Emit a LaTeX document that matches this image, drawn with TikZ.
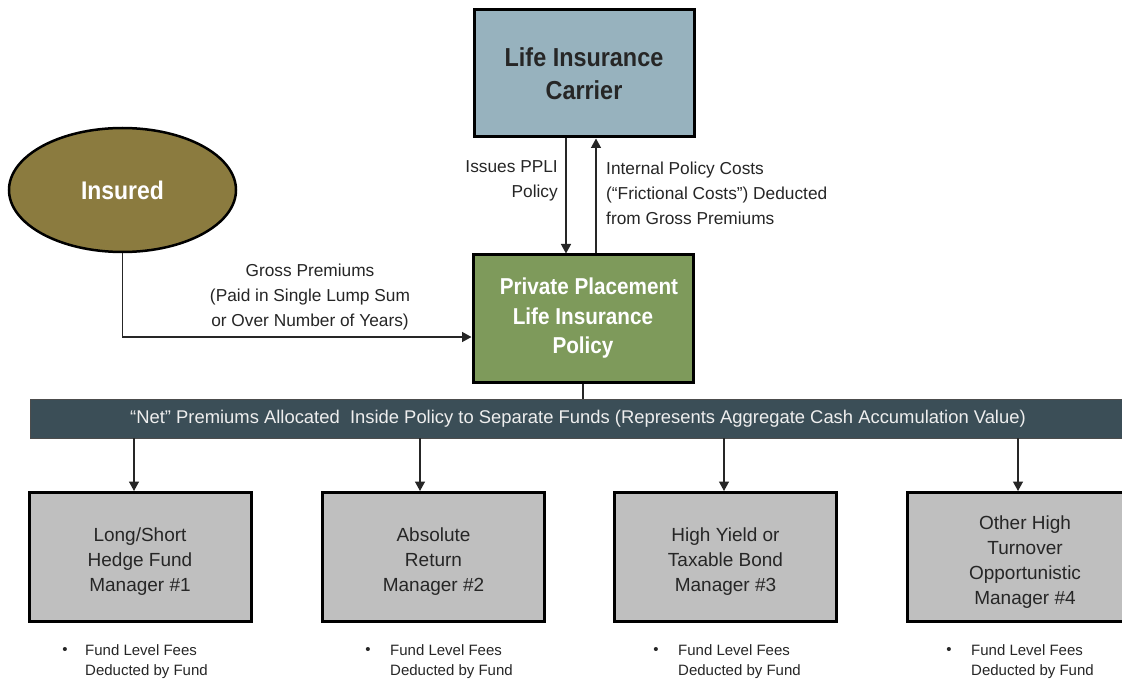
\documentclass[tikz,border=0pt]{standalone}
\usepackage{fontspec}
\setmainfont{Liberation Sans}
\newfontfamily\condbold[FakeStretch=0.9]{Liberation Sans}
\usetikzlibrary{arrows.meta,shapes.geometric}
\definecolor{carrierfill}{HTML}{97B2BE}
\definecolor{insuredfill}{HTML}{8B7B3F}
\definecolor{pplifill}{HTML}{7E9A5B}
\definecolor{bandfill}{HTML}{3B4E57}
\definecolor{mgrfill}{HTML}{BFBFBF}
\definecolor{txtdark}{HTML}{262626}
\definecolor{bandtxt}{HTML}{EEEEEE}
\newcommand{\pushdown}{\rule{0pt}{23pt}}
\tikzset{
  arr/.style={draw=txtdark, line width=1.4pt, -{Triangle[length=9.5pt,width=10pt]}},
  plain/.style={draw=txtdark, line width=1.4pt},
  topbox/.style={draw=black, line width=3pt, minimum width=220pt, minimum height=127pt, inner sep=0pt, align=center},
  mgrbox/.style={draw=black, line width=3pt, fill=mgrfill, minimum height=129pt, inner sep=0pt, align=center,
    text=txtdark, font=\fontsize{19}{25}\selectfont},
  lbl/.style={inner sep=0pt, text=txtdark, font=\fontsize{17.3}{25}\selectfont},
  fee/.style={inner sep=0pt, text=txtdark, font=\fontsize{15}{20}\selectfont, align=left, anchor=west},
  bul/.style={inner sep=0pt, text=txtdark, font=\fontsize{15}{15}\selectfont},
}
\begin{document}
\begin{tikzpicture}[x=1pt,y=-1pt]
\useasboundingbox (0,0) rectangle (1122,679);
\clip (0,0) rectangle (1122,679);
\fill[white] (0,0) rectangle (1122,679);
% top nodes
\node[topbox, fill=carrierfill, text=txtdark, font=\condbold\bfseries\fontsize{26}{33}\selectfont] (car) at (584,73.5) {Life Insurance\\Carrier};
\node[ellipse, draw=black, line width=2.5pt, fill=insuredfill, minimum width=227pt, minimum height=124pt, inner sep=0pt,
  text=white, font=\condbold\bfseries\fontsize{25.5}{30}\selectfont] (ins) at (122.5,190) {Insured};
\node[topbox, fill=pplifill, text=white, font=\condbold\bfseries\fontsize{23}{29.5}\selectfont] (ppli) at (583,318.5) {\hspace*{12pt}Private Placement\\Life Insurance\\Policy};
% band
\node[draw=black!70, line width=0.8pt, fill=bandfill, minimum width=1096pt, minimum height=39pt, inner sep=0pt,
  text=bandtxt, font=\fontsize{18.4}{20}\selectfont] (band) at (578,418.5) {“Net” Premiums Allocated\ \ Inside Policy to Separate Funds (Represents Aggregate Cash Accumulation Value)};
% managers
\node[mgrbox, minimum width=222pt] (m1) at (140,557) {\pushdown Long/Short\\Hedge Fund\\Manager \#1};
\node[mgrbox, minimum width=222pt] (m2) at (433.5,557) {\pushdown Absolute\\Return\\Manager \#2};
\node[mgrbox, minimum width=222pt] (m3) at (725.5,557) {\pushdown High Yield or\\Taxable Bond\\Manager \#3};
\node[mgrbox, minimum width=236pt] (m4) at (1025,557) {\pushdown Other High\\Turnover\\Opportunistic\\Manager \#4};
% labels
\node[lbl, align=right, anchor=east] (iss) at (558,181) {Issues PPLI\\Policy};
\node[lbl, align=left, anchor=west] (ipc) at (606,193) {Internal Policy Costs\\(“Frictional Costs”) Deducted\\from Gross Premiums};
\node[lbl, align=center] (gp) at (310,297) {Gross Premiums\\(Paid in Single Lump Sum\\or Over Number of Years)};
% fees
\node[bul] (b1) at (65,651) {•};
\node[fee] (f1) at (85,662) {Fund Level Fees\\Deducted by Fund};
\node[bul] (b2) at (368,651) {•};
\node[fee] (f2) at (390,662) {Fund Level Fees\\Deducted by Fund};
\node[bul] (b3) at (656,651) {•};
\node[fee] (f3) at (678,662) {Fund Level Fees\\Deducted by Fund};
\node[bul] (b4) at (949,651) {•};
\node[fee] (f4) at (971,662) {Fund Level Fees\\Deducted by Fund};
% connector helper coordinates
\coordinate (xd) at (566,0);
\coordinate (xu) at (596,0);
\coordinate (yg) at (0,337);
\coordinate (c1) at (134,0);
\coordinate (c2) at (420,0);
\coordinate (c3) at (724,0);
\coordinate (c4) at (1018,0);
% connectors
\draw[arr] (car.south -| xd) -- (ppli.north -| xd);
\draw[arr] (ppli.north -| xu) -- (car.south -| xu);
\draw[arr] (ins.south) |- (ppli.west |- yg);
\draw[plain] (ppli.south) -- (band.north -| ppli.south);
\draw[arr] (band.south -| c1) -- (m1.north -| c1);
\draw[arr] (band.south -| c2) -- (m2.north -| c2);
\draw[arr] (band.south -| c3) -- (m3.north -| c3);
\draw[arr] (band.south -| c4) -- (m4.north -| c4);
\end{tikzpicture}
\end{document}
